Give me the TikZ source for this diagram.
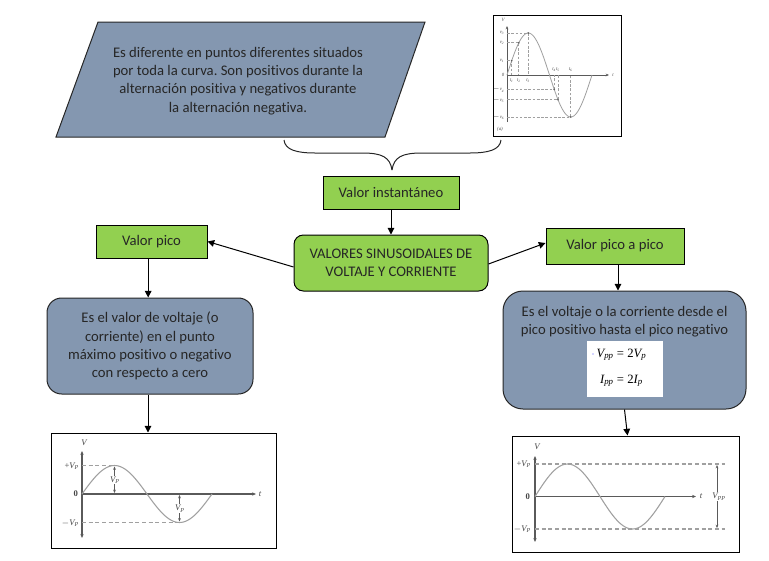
\documentclass[tikz,border=0pt]{standalone}
\usepackage{fontspec}
\setmainfont{Carlito}[Ligatures=NoCommon]
\newfontfamily\gfont{Liberation Serif}
\usetikzlibrary{arrows.meta,calc}
\definecolor{grn}{HTML}{92D050}
\definecolor{slate}{HTML}{8497B0}
\definecolor{gline}{HTML}{A0A0A0}
\definecolor{gaxis}{HTML}{5A5A5A}
\definecolor{gtext}{HTML}{444444}
\definecolor{txt}{HTML}{262626}
\frenchspacing
\begin{document}
\begin{tikzpicture}[x=0.75pt,y=-0.75pt,
 every node/.style={font=\fontsize{11}{13.7}\selectfont, text=txt},
 greenbox/.style={draw=black, line width=0.75pt, fill=grn, align=center, inner sep=0pt},
 slatebox/.style={draw=black!85, line width=0.75pt, fill=slate, align=center, inner sep=0pt},
 imgbox/.style={draw=black, line width=0.75pt, fill=white, inner sep=0pt},
 arr/.style={-{Triangle[length=5pt,width=5pt]}, line width=0.75pt, black},
 gax/.style={gaxis, line width=0.8pt},
 gsine/.style={gline, line width=0.8pt},
 gdash/.style={gline, line width=0.8pt, dash pattern=on 3pt off 2pt},
 tdash/.style={gline, line width=0.5pt, dash pattern=on 2pt off 1.2pt},
 glab/.style={font=\gfont\itshape\fontsize{6.5}{7}\selectfont, text=gtext, inner sep=0.5pt},
 tlab/.style={font=\gfont\itshape\fontsize{3.6}{4}\selectfont, text=gtext, inner sep=0.3pt},
]
\useasboundingbox (0,0) rectangle (769,561);

% ---------- parallelogram ----------
\coordinate (pa) at (98,22);
\coordinate (pb) at (425,22);
\coordinate (pc) at (385,137);
\coordinate (pd) at (56,137);
\draw[fill=slate, draw=black!85, line width=0.75pt] (pa)--(pb)--(pc)--(pd)--cycle;
\node[align=center] (paratext) at (238,81) {Es diferente en puntos diferentes situados\\por toda la curva. Son positivos durante la\\alternación positiva y negativos durante\\la alternación negativa.};

% ---------- top-right picture ----------
\node[imgbox, minimum width=96pt, minimum height=90.75pt] (imgA) at (557,75.5) {};
\draw[gax, line width=0.6pt, -{Stealth[length=2.5pt,width=2pt]}] (507,122) -- (507,26);
\draw[gax, line width=0.6pt, -{Stealth[length=2.5pt,width=2pt]}] (507,75) -- (609,75);
\draw[gsine, line width=0.6pt] plot[domain=0:360, samples=73, smooth] ({507+\x/360*85},{75-42*sin(\x)});
\foreach \a/\k in {20/1,50/2,90/3}{
  \draw[tdash] (507,{75-42*sin(\a)}) -- ({507+\a/360*85},{75-42*sin(\a)}) -- ({507+\a/360*85},75);
  \fill[gaxis] ({507+\a/360*85},{75-42*sin(\a)}) circle (0.9);
  \node[tlab, anchor=east] at (505,{75-42*sin(\a)}) {v\textsubscript{\k}};
  \node[tlab] at ({507+\a/360*85},80.5) {t\textsubscript{\k}};
}
\foreach \a/\k in {200/4,216/5,270/6}{
  \draw[tdash] (507,{75-42*sin(\a)}) -- ({507+\a/360*85},{75-42*sin(\a)}) -- ({507+\a/360*85},75);
  \fill[gaxis] ({507+\a/360*85},{75-42*sin(\a)}) circle (0.9);
  \node[tlab, anchor=east] at (505,{75-42*sin(\a)}) {$-$v\textsubscript{\k}};
  \node[tlab] at ({507+\a/360*85},69.5) {t\textsubscript{\k}};
}
\node[tlab, anchor=east] at (505,75) {0};
\node[tlab] at (503,20) {V};
\node[tlab] at (613,75) {t};
\node[tlab] at (500,129) {(a)};

% ---------- brace ----------
\draw[black!85, line width=0.75pt] (284,140) .. controls (285,150) and (297,153) .. (315,153) -- (362,153) .. controls (382,153) and (390,157) .. (392,170);
\draw[black!85, line width=0.75pt] (501,140) .. controls (500,150) and (488,153) .. (470,153) -- (422,153) .. controls (402,153) and (394,157) .. (392,170);

% ---------- green boxes ----------
\node[greenbox, minimum width=102pt, minimum height=24.75pt] (inst) at (391,192.5) {Valor instantáneo};
\node[greenbox, rounded corners=7pt, minimum width=145.5pt, minimum height=42pt] (main) at (391,263) {VALORES SINUSOIDALES DE\\VOLTAJE Y CORRIENTE};
\node[greenbox, minimum width=83.25pt, minimum height=24.75pt] (pico) at (151.5,241.5) {Valor pico};
\node[greenbox, minimum width=103.5pt, minimum height=27pt] (ppico) at (615,246) {Valor pico a pico};

% ---------- slate boxes ----------
\node[slatebox, rounded corners=11pt, minimum width=154.5pt, minimum height=72pt] (ldesc) at (150,346) {Es el valor de voltaje (o\\corriente) en el punto\\máximo positivo o negativo\\con respecto a cero};
\node[slatebox, rounded corners=15pt, minimum width=182.25pt, minimum height=88.5pt] (rdesc) at (624.5,350) {};
\node[align=center, font=\fontsize{11}{13}\selectfont] (rdtext) at (624.5,321.5) {Es el voltaje o la corriente desde el\\pico positivo hasta el pico negativo};
\node[fill=white, minimum width=57pt, minimum height=42pt, inner sep=0pt] (fbox) at (625,369) {};
\node[align=center, inner sep=0pt, font=\gfont\fontsize{9.5}{19.5}\selectfont, text=black] (ftext) at (621.5,368) {{\itshape V}\textsubscript{\itshape pp} = 2{\itshape V}\textsubscript{\itshape p}\\{\itshape I}\textsubscript{\itshape pp} = 2{\itshape I}\textsubscript{\itshape p}};
\fill[blue!70] (593,354) circle (0.7);

% ---------- bottom-left picture ----------
\node[imgbox, minimum width=168.75pt, minimum height=86.25pt] (imgB) at (163.5,490.5) {};
\draw[gax, {Stealth[length=3pt,width=2.5pt]}-{Stealth[length=3pt,width=2.5pt]}] (82,451) -- (82,538);
\draw[gax, -{Stealth[length=3pt,width=2.5pt]}] (82,494) -- (256,494);
\draw[gsine] plot[domain=0:360, samples=73, smooth] ({82+\x/360*130},{494-28.5*sin(\x)});
\draw[gdash] (82,465.5) -- (114.5,465.5);
\draw[gdash] (82,522.5) -- (179.5,522.5);
\draw[gax, line width=0.6pt, {Stealth[length=2.5pt,width=2pt]}-{Stealth[length=2.5pt,width=2pt]}] (114.5,466.5) -- (114.5,493);
\draw[gax, line width=0.6pt, {Stealth[length=2.5pt,width=2pt]}-{Stealth[length=2.5pt,width=2pt]}] (179.5,495) -- (179.5,521.5);
\node[glab, fill=white] at (115,480) {V\textsubscript{P}};
\node[glab, fill=white] at (180,508.5) {V\textsubscript{P}};
\node[glab] at (84,443) {V};
\node[glab, anchor=east] at (80,466) {\upshape+\itshape V\textsubscript{P}};
\node[glab, anchor=east] at (79,494) {\upshape\bfseries 0};
\node[glab, anchor=east] at (80,523) {\upshape$-$\itshape V\textsubscript{P}};
\node[glab] at (260,494) {t};

% ---------- bottom-right picture ----------
\node[imgbox, minimum width=170.25pt, minimum height=87pt] (imgC) at (625.5,494) {};
\draw[gax, {Stealth[length=3pt,width=2.5pt]}-{Stealth[length=3pt,width=2.5pt]}] (535,456) -- (535,542);
\draw[gax, -{Stealth[length=3pt,width=2.5pt]}] (535,496.5) -- (696,496.5);
\draw[gsine] plot[domain=0:360, samples=73, smooth] ({535+\x/360*130},{496.5-32.5*sin(\x)});
\draw[gdash] (535,464) -- (725,464);
\draw[gdash] (535,529) -- (725,529);
\draw[gax, line width=0.6pt, {Stealth[length=2.5pt,width=2pt]}-{Stealth[length=2.5pt,width=2pt]}] (717,465) -- (717,528);
\node[glab, fill=white] at (719,496.5) {V\textsubscript{PP}};
\node[glab] at (537,447) {V};
\node[glab, anchor=east] at (532,464) {\upshape+\itshape V\textsubscript{P}};
\node[glab, anchor=east] at (531,496.5) {\upshape\bfseries 0};
\node[glab, anchor=east] at (532,529) {\upshape$-$\itshape V\textsubscript{P}};
\node[glab] at (701,496.5) {t};

% ---------- connectors ----------
\draw[arr] (inst.south) -- (main.north);
\draw[arr] ([yshift=-3pt]main.west) -- (pico.east);
\draw[arr] ([yshift=-0.75pt]main.east) -- ([yshift=2.25pt]ppico.west);
\draw[arr] ([xshift=-2.5pt]pico.south) -- ([xshift=-2.5pt]pico.south |- ldesc.north);
\draw[arr] ([xshift=-1.5pt]ldesc.south) -- ([xshift=-1.5pt]ldesc.south |- imgB.north);
\draw[arr] ([xshift=2.25pt]ppico.south) -- ([xshift=2.25pt]ppico.south |- rdesc.north);
\draw[arr] (rdesc.south) -- ([xshift=1.5pt]imgC.north);
\end{tikzpicture}
\end{document}
